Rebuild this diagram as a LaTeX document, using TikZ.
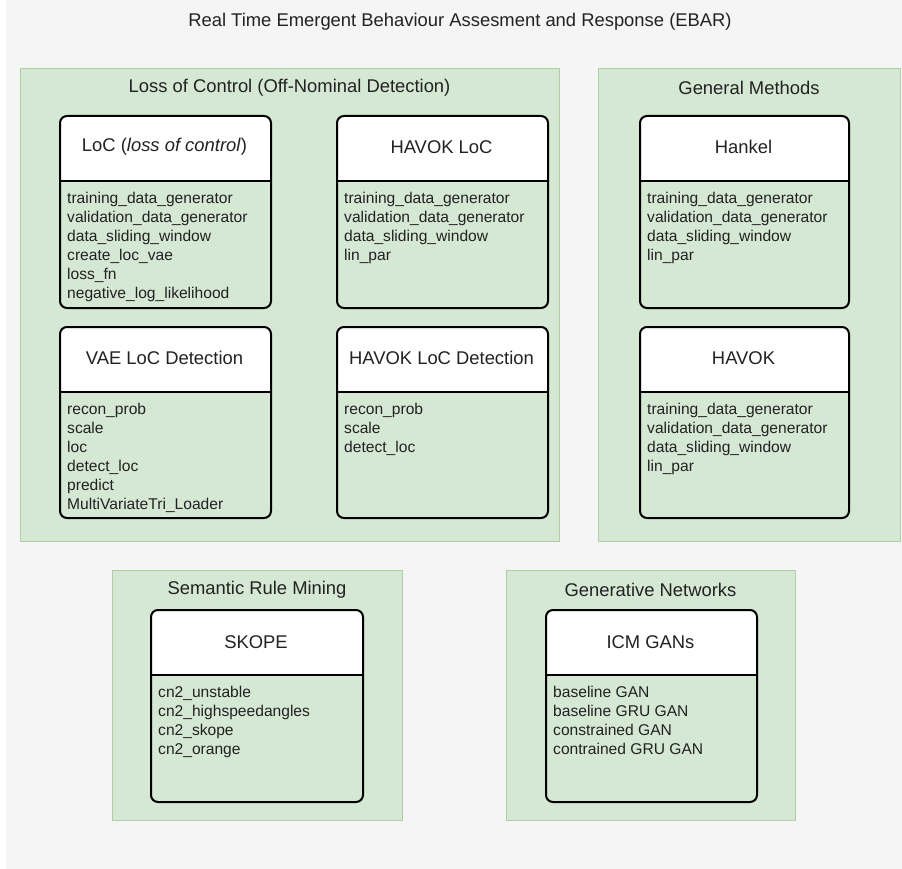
\documentclass[tikz,border=0pt]{standalone}
\usepackage{fontspec}
\setmainfont{Liberation Sans}
\usepackage{tikz}
\definecolor{panel}{HTML}{F5F5F5}
\definecolor{groupfill}{HTML}{D5E8D4}
\definecolor{groupline}{HTML}{AFCFA3}
\definecolor{ink}{HTML}{222222}
\newcommand{\headtext}{\fontsize{18.4}{22}\selectfont}
\newcommand{\membertext}{\fontsize{15.6}{19}\selectfont}
\tikzstyle{group}=[draw=groupline, fill=groupfill, line width=1pt, anchor=north west, inner sep=0pt]
\tikzstyle{heading}=[font=\headtext, text=ink]
\tikzstyle{umlclass}=[draw, line width=2pt, rounded corners=7pt, anchor=north west, inner sep=0pt,
    path picture={
        \fill[white, sharp corners] (path picture bounding box.north west) rectangle ([yshift=-65pt]path picture bounding box.north east);
        \draw[line width=2pt, sharp corners] ([yshift=-65pt]path picture bounding box.north west) -- ([yshift=-65pt]path picture bounding box.north east);
    }]
\tikzstyle{members}=[anchor=north west, align=left, inner sep=0pt, font=\membertext, text=ink]

\begin{document}
\begin{tikzpicture}[x=1pt, y=-1pt]
    \useasboundingbox (0,0) rectangle (902,869);
    \fill[panel] (6,0) rectangle (902,869);
    \node[heading] (title) at (460,22) {Real Time Emergent Behaviour Assesment and Response (EBAR)};

    % groups
    \node[group, minimum width=539pt, minimum height=473pt] (lossctrl) at (20,68) {};
    \node[group, minimum width=302pt, minimum height=473pt] (general) at (598,68) {};
    \node[group, minimum width=290pt, minimum height=250pt] (rules) at (112,570) {};
    \node[group, minimum width=289pt, minimum height=250pt] (generative) at (506,570) {};
    \node[heading] (lossctrl-title) at (289.5,88) {Loss of Control (Off-Nominal Detection)};
    \node[heading] (general-title) at (749,88) {General Methods};
    \node[heading] (rules-title) at (257,590) {Semantic Rule Mining};
    \node[heading] (generative-title) at (650.5,590) {Generative Networks};

    % classes
    \node[umlclass, minimum width=211pt, minimum height=192pt] (loc) at (59,115) {};
    \node[umlclass, minimum width=211pt, minimum height=192pt] (havokloc) at (336,115) {};
    \node[umlclass, minimum width=211pt, minimum height=191pt] (vaedet) at (59,326) {};
    \node[umlclass, minimum width=211pt, minimum height=191pt] (havokdet) at (336,326) {};
    \node[umlclass, minimum width=209pt, minimum height=192pt] (hankel) at (639,115) {};
    \node[umlclass, minimum width=209pt, minimum height=191pt] (havok) at (639,326) {};
    \node[umlclass, minimum width=212pt, minimum height=192pt] (skope) at (150,609) {};
    \node[umlclass, minimum width=211pt, minimum height=192pt] (gans) at (545,609) {};

    \node[heading] (loc-name) at (164.5,147) {LoC (\textit{loss of control})};
    \node[heading] (havokloc-name) at (441.5,147) {HAVOK LoC};
    \node[heading] (vaedet-name) at (164.5,358) {VAE LoC Detection};
    \node[heading] (havokdet-name) at (441.5,358) {HAVOK LoC Detection};
    \node[heading] (hankel-name) at (743.5,147) {Hankel};
    \node[heading] (havok-name) at (743.5,358) {HAVOK};
    \node[heading] (skope-name) at (256,642) {SKOPE};
    \node[heading] (gans-name) at (650.5,642) {ICM GANs};

    \node[members] (loc-items) at (67,192) {training\_data\_generator\\validation\_data\_generator\\data\_sliding\_window\\create\_loc\_vae\\loss\_fn\\negative\_log\_likelihood};
    \node[members] (havokloc-items) at (344,192) {training\_data\_generator\\validation\_data\_generator\\data\_sliding\_window\\lin\_par};
    \node[members] (vaedet-items) at (67,403) {recon\_prob\\scale\\loc\\detect\_loc\\predict\\MultiVariateTri\_Loader};
    \node[members] (havokdet-items) at (344,403) {recon\_prob\\scale\\detect\_loc};
    \node[members] (hankel-items) at (647,192) {training\_data\_generator\\validation\_data\_generator\\data\_sliding\_window\\lin\_par};
    \node[members] (havok-items) at (647,403) {training\_data\_generator\\validation\_data\_generator\\data\_sliding\_window\\lin\_par};
    \node[members] (skope-items) at (158,686) {cn2\_unstable\\cn2\_highspeedangles\\cn2\_skope\\cn2\_orange};
    \node[members] (gans-items) at (553,686) {baseline GAN\\baseline GRU GAN\\constrained GAN\\contrained GRU GAN};
\end{tikzpicture}
\end{document}
